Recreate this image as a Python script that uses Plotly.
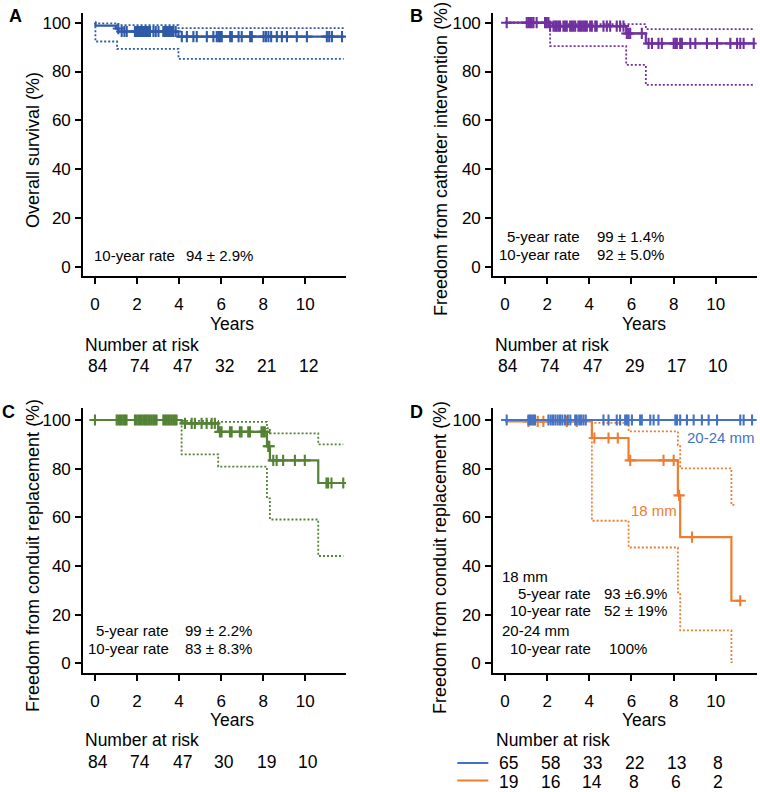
import plotly.graph_objects as go

# ---------------- DATA ----------------
# Panel A: overall survival
a_time = [0, 0.02, 1.0, 1.12, 3.97, 11.83]
a_surv = [100, 98.8, 97.6, 96.4, 94.3, 94.3]
a_up_time = [0, 0.02, 1.05, 3.97, 11.83]
a_up = [100, 99.7, 99.0, 97.8, 97.8]
a_lo_time = [0, 0.02, 1.05, 3.97, 11.83]
a_lo = [100, 92.3, 89.3, 85.2, 85.2]
a_cens = [1.11, 1.27, 1.40, 1.51, 1.90, 1.96, 2.03, 2.09, 2.14, 2.20, 2.25, 2.32, 2.38,
          2.45, 2.51, 2.57, 2.62, 2.78, 2.89, 3.02, 3.25, 3.31, 3.37, 3.43, 3.49, 3.55,
          3.62, 3.67, 3.73, 3.84, 4.13, 4.37, 4.68, 4.84, 5.32, 5.63, 5.79, 5.87, 5.95,
          6.03, 6.43, 6.51, 6.83, 6.98, 7.38, 7.46, 8.02, 8.13, 8.25, 8.38, 8.65, 8.89,
          9.13, 9.60, 10.08, 11.03, 11.14, 11.27, 11.75]
a_risk = [84, 74, 47, 32, 21, 12]

# Panel B: freedom from catheter intervention
b_time = [0, 2.14, 5.75, 6.68, 11.80]
b_surv = [100, 98.6, 95.6, 91.5, 91.5]
b_up_time = [0, 2.14, 6.68, 11.80]
b_up = [100, 99.4, 97.4, 97.4]
b_lo_time = [0, 2.14, 5.75, 6.68, 11.80]
b_lo = [100, 90.4, 82.7, 74.5, 74.5]
b_cens = [0.08, 1.03, 1.11, 1.19, 1.27, 1.35, 1.50, 1.90, 1.98, 2.06, 2.14, 2.30, 2.38,
          2.45, 2.53, 2.61, 2.77, 2.85, 2.93, 3.09, 3.17, 3.25, 3.33, 3.48, 3.56, 3.64,
          3.72, 3.80, 3.88, 4.04, 4.12, 4.28, 4.35, 4.67, 4.83, 4.99, 5.30, 5.46, 5.62,
          5.78, 5.86, 5.94, 6.49, 6.81, 6.97, 7.28, 7.44, 8.00, 8.08, 8.15, 8.31, 8.39,
          8.79, 9.03, 9.58, 10.06, 10.69, 11.01, 11.16, 11.32, 11.80]
b_risk = [84, 74, 47, 29, 17, 10]

# Panel C: freedom from conduit replacement
c_time = [0, 4.12, 5.86, 8.18, 8.32, 10.62, 11.81]
c_surv = [100, 98.6, 95.1, 89.2, 83.4, 74.1, 74.1]
c_up_time = [0, 4.12, 5.86, 8.18, 8.32, 10.62, 11.81]
c_up = [100, 99.6, 99.2, 96.6, 94.5, 90.0, 90.0]
c_lo_time = [0, 4.12, 5.86, 8.18, 8.32, 10.62, 11.81]
c_lo = [100, 85.9, 80.8, 67.8, 59.1, 44.1, 44.1]
c_cens = [0.0, 1.03, 1.11, 1.19, 1.27, 1.35, 1.43, 1.50, 1.90, 1.98, 2.06, 2.14, 2.22,
          2.30, 2.38, 2.45, 2.53, 2.61, 2.69, 2.77, 2.85, 2.93, 3.25, 3.33, 3.41, 3.48,
          3.56, 3.64, 3.72, 3.80, 3.88, 4.28, 4.60, 4.75, 5.07, 5.31, 5.55, 5.70, 5.94,
          6.02, 6.42, 6.50, 6.89, 6.97, 7.29, 7.37, 7.92, 8.00, 8.08, 8.24, 8.29, 8.48,
          8.64, 8.95, 9.51, 9.98, 11.01, 11.09, 11.25, 11.81]
c_risk = [84, 74, 47, 30, 19, 10]

# Panel D: by conduit size
d1_time = [0, 11.80]
d1_surv = [100, 100]
d1_cens = [0.08, 1.11, 1.19, 1.27, 1.35, 1.42, 2.06, 2.17, 2.28, 2.39, 2.50, 2.61, 2.72,
           2.85, 2.98, 3.10, 3.33, 3.40, 3.52, 3.61, 3.72, 3.83, 4.67, 4.91, 5.30, 5.46,
           5.70, 5.78, 5.86, 6.02, 6.41, 6.49, 6.89, 7.05, 7.28, 8.08, 8.16, 8.31, 8.63,
           8.95, 9.34, 9.66, 10.06, 11.16, 11.32, 11.72]
d2_time = [0, 4.12, 5.86, 8.20, 8.31, 10.74, 11.16]
d2_surv = [99.4, 92.6, 83.4, 69.0, 51.9, 25.7, 25.7]
d2_up_time = [4.12, 4.12, 5.86, 8.20, 8.31, 10.74, 10.92]
d2_up = [99.4, 98.8, 95.3, 89.7, 80.1, 65.1, 65.1]
d2_lo_time = [4.12, 4.12, 5.86, 8.20, 8.31, 10.74, 10.80]
d2_lo = [99.4, 58.6, 47.6, 29.2, 13.5, 0.5, 0.5]
d2_cens = [1.11, 1.55, 1.82, 2.93, 3.40, 4.24, 4.91, 5.35, 5.94, 7.52, 8.00, 8.26, 8.87, 11.16]
d1_risk = [65, 58, 33, 22, 13, 8]
d2_risk = [19, 16, 14, 8, 6, 2]

risk_years = [0, 2, 4, 6, 8, 10]
x_ticks = [0, 2, 4, 6, 8, 10]
y_ticks = [0, 20, 40, 60, 80, 100]

# ---------------- STYLE ----------------
W, H = 760, 792
FONT = "Liberation Sans, Arial, sans-serif"
C_A = "#2F5AA8"
C_B = "#7030A0"
C_C = "#548235"
C_D1 = "#4472C4"
C_D2 = "#ED7D31"


def pxx(x):
    return x / W


def pxy(y):
    return 1 - y / H


def step_val(times, vals, t):
    v = vals[0]
    for tt, vv in zip(times, vals):
        if tt <= t:
            v = vv
    return v


fig = go.Figure()

X_RANGE = [-0.556, 11.94]
panels = {
    "A": dict(ax="", x0=83.3, x1=346.0, top=13.3, bot=276.0, y0=266.7, y100=22.7),
    "B": dict(ax="2", x0=493.3, x1=756.7, top=13.3, bot=276.0, y0=266.7, y100=22.7),
    "C": dict(ax="3", x0=83.3, x1=346.0, top=408.0, bot=673.3, y0=663.3, y100=420.0),
    "D": dict(ax="4", x0=493.3, x1=756.7, top=408.0, bot=673.3, y0=663.3, y100=420.0),
}

layout_axes = {}
for key, p in panels.items():
    s = (p["y0"] - p["y100"]) / 100.0
    yr = [(p["y0"] - p["bot"]) / s, (p["y0"] - p["top"]) / s]
    common = dict(showline=True, linewidth=2.2, linecolor="black", ticks="outside",
                  ticklen=6, tickwidth=2, tickcolor="black", showgrid=False,
                  zeroline=False, tickfont=dict(family=FONT, size=17, color="black"))
    layout_axes["xaxis" + p["ax"]] = dict(domain=[pxx(p["x0"]), pxx(p["x1"])],
                                          range=X_RANGE, tickvals=x_ticks,
                                          anchor="y" + p["ax"], ticklabelstandoff=5,
                                          **common)
    layout_axes["yaxis" + p["ax"]] = dict(domain=[pxy(p["bot"]), pxy(p["top"])],
                                          range=yr, tickvals=y_ticks,
                                          anchor="x" + p["ax"], ticklabelstandoff=1,
                                          **common)


def add_km(ax, times, surv, color, cens, up=None, lo=None):
    xa = "x" + ax
    ya = "y" + ax
    if up is not None:
        for tt, vv in (up, lo):
            fig.add_trace(go.Scatter(x=tt, y=vv, mode="lines", xaxis=xa, yaxis=ya,
                                     line=dict(color=color, width=1.8, dash="2px,2px", shape="hv"),
                                     hoverinfo="skip", showlegend=False))
    fig.add_trace(go.Scatter(x=times, y=surv, mode="lines", xaxis=xa, yaxis=ya,
                             line=dict(color=color, width=2.2, shape="hv"),
                             showlegend=False))
    cy = [step_val(times, surv, t) for t in cens]
    fig.add_trace(go.Scatter(x=cens, y=cy, mode="markers", xaxis=xa, yaxis=ya,
                             marker=dict(symbol="cross-thin", size=8, color=color,
                                         line=dict(color=color, width=2.1)),
                             showlegend=False))


add_km("", a_time, a_surv, C_A, a_cens, (a_up_time, a_up), (a_lo_time, a_lo))
add_km("2", b_time, b_surv, C_B, b_cens, (b_up_time, b_up), (b_lo_time, b_lo))
add_km("3", c_time, c_surv, C_C, c_cens, (c_up_time, c_up), (c_lo_time, c_lo))
add_km("4", d2_time, d2_surv, C_D2, d2_cens, (d2_up_time, d2_up), (d2_lo_time, d2_lo))
add_km("4", d1_time, d1_surv, C_D1, d1_cens)

ann = []


def text(x, y, s, size=15, xanchor="left", color="black", bold=False, angle=0):
    if bold:
        s = "<b>" + s + "</b>"
    ann.append(dict(x=pxx(x), y=pxy(y), xref="paper", yref="paper", text=s,
                    showarrow=False, xanchor=xanchor, yanchor="middle", textangle=angle,
                    font=dict(family=FONT, size=size, color=color)))


# panel letters
text(15, 16, "A", 18, "center", bold=True)
text(416.5, 16, "B", 18, "center", bold=True)
text(8.5, 412, "C", 18, "center", bold=True)
text(416, 412, "D", 18, "center", bold=True)

# y axis titles
text(33, 150, "Overall survival (%)", 18, "center", angle=-90)
text(441, 159, "Freedom from catheter intervention (%)", 18, "center", angle=-90)
text(33, 556, "Freedom from conduit replacement (%)", 18, "center", angle=-90)
text(440, 558, "Freedom from conduit replacement (%)", 18, "center", angle=-90)

# x axis titles
for (xx, yy) in [(232.5, 324), (643.8, 324), (232.5, 720), (643.8, 719.5)]:
    text(xx, yy, "Years", 17.5, "center")

# rate annotations
text(91.7, 255, "10-year rate")
text(184.3, 255, "94 ± 2.9%")
text(581.7, 236.7, "5-year rate", xanchor="right")
text(581.7, 254.3, "10-year rate", xanchor="right")
text(595, 236.7, "99 ± 1.4%")
text(595, 254.3, "92 ± 5.0%")
text(170.7, 630, "5-year rate", xanchor="right")
text(170.7, 648.3, "10-year rate", xanchor="right")
text(183.3, 630, "99 ± 2.2%")
text(183.3, 648.3, "83 ± 8.3%")
text(500, 576.3, "18 mm")
text(592.7, 593, "5-year rate", xanchor="right")
text(601.7, 593, "93 ±6.9%")
text(592.7, 610.7, "10-year rate", xanchor="right")
text(601.7, 610.7, "52 ± 19%")
text(500, 630, "20-24 mm")
text(592.7, 648.3, "10-year rate", xanchor="right")
text(606.7, 648.3, "100%")
text(756.7, 437.3, "20-24 mm", 15, "right", color=C_D1)
text(654, 510.7, "18 mm", 15, "center", color=C_D2)


def risk_row(zero_px, y, values):
    for yr, v in zip(risk_years, values):
        text(zero_px + 3 + yr * 21.04, y, str(v), 17.5, "center")


text(83.3, 345, "Number at risk", 17.5)
risk_row(95, 366, a_risk)
text(493.3, 345, "Number at risk", 17.5)
risk_row(505, 365.7, b_risk)
text(83.3, 740, "Number at risk", 17.5)
risk_row(95, 762.3, c_risk)
text(494.3, 740, "Number at risk", 17.5)
risk_row(505, 763.3, d1_risk)
risk_row(505, 781.7, d2_risk)

shapes = [
    dict(type="line", xref="paper", yref="paper", x0=pxx(457.3), x1=pxx(488.3),
         y0=pxy(763), y1=pxy(763), line=dict(color=C_D1, width=2)),
    dict(type="line", xref="paper", yref="paper", x0=pxx(457.3), x1=pxx(488.3),
         y0=pxy(780.5), y1=pxy(780.5), line=dict(color=C_D2, width=2)),
]

fig.update_layout(width=W, height=H, margin=dict(l=0, r=0, t=0, b=0),
                  paper_bgcolor="white", plot_bgcolor="white", showlegend=False,
                  annotations=ann, shapes=shapes, **layout_axes)

fig.write_html("out.html")
